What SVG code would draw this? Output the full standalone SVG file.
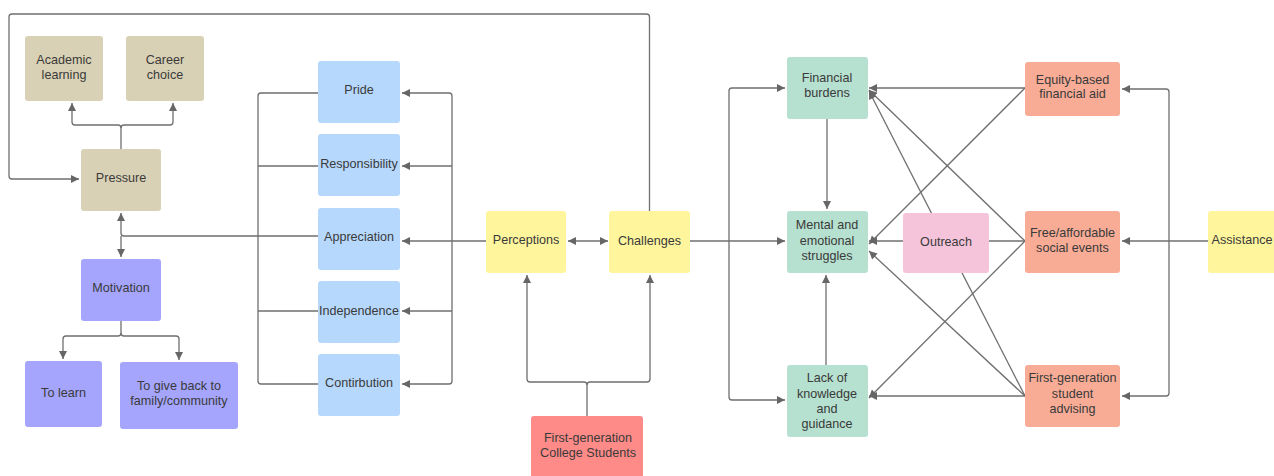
<svg xmlns="http://www.w3.org/2000/svg" width="1274" height="476" viewBox="0 0 1274 476">
<style>
.n{stroke:none}
.tan{fill:#d9d1b5}.pur{fill:#a5a5fd}.blu{fill:#b6d8fd}.yel{fill:#fff59d}.red{fill:#ff8b88}.grn{fill:#b6e0cf}.pnk{fill:#f5c4da}.sal{fill:#f8ac96}
text{font-family:"Liberation Sans",Arial,sans-serif;font-size:12.6px;fill:#3a3a3a;text-anchor:middle;dominant-baseline:central}
.c path{fill:none;stroke:#6f6f6f;stroke-width:1.3}
</style>
<defs>
<marker id="ah" viewBox="0 0 10 10" refX="10" refY="5" markerWidth="9" markerHeight="8" orient="auto-start-reverse" markerUnits="userSpaceOnUse"><path d="M0,0 L10,5 L0,10 z" fill="#666"/></marker>
</defs>
<rect width="1274" height="476" fill="#ffffff"/>
<g class="c" id="connectors">
<path d="M649.5,211 V17 Q649.5,14 646.5,14 H12 Q9,14 9,17 V176 Q9,179 12,179 H79" marker-end="url(#ah)"/>
<path d="M121,149 V128 Q121,125 118,125 H75 Q72,125 72,122 V103" marker-end="url(#ah)"/>
<path d="M121,128 Q121,125 124,125 H170 Q173,125 173,122 V103" marker-end="url(#ah)"/>
<path d="M318,93 H261 Q258,93 258,96 V381 Q258,384 261,384 H318"/>
<path d="M318,166 H258 M318,236 H258 M318,311 H258"/>
<path d="M258,236 H124 Q121,236 121,233 V213" marker-end="url(#ah)"/>
<path d="M121,236 V257" marker-end="url(#ah)"/>
<path d="M121,320 V333 Q121,336 118,336 H66 Q63,336 63,339 V359" marker-end="url(#ah)"/>
<path d="M121,333 Q121,336 124,336 H176 Q179,336 179,339 V360" marker-end="url(#ah)"/>
<path d="M486,241 H452"/>
<path d="M452,241 V96 Q452,93 449,93 H402" marker-end="url(#ah)"/>
<path d="M452,166 H402" marker-end="url(#ah)"/>
<path d="M452,241 H402" marker-end="url(#ah)"/>
<path d="M452,311 H402" marker-end="url(#ah)"/>
<path d="M452,241 V381 Q452,384 449,384 H402" marker-end="url(#ah)"/>
<path d="M568,241 H608" marker-start="url(#ah)" marker-end="url(#ah)"/>
<path d="M587,416 V385 Q587,382 584,382 H530 Q527,382 527,379 V275" marker-end="url(#ah)"/>
<path d="M587,385 Q587,382 590,382 H647 Q650,382 650,379 V275" marker-end="url(#ah)"/>
<path d="M690,241 H729"/>
<path d="M729,241 V91 Q729,88 732,88 H785" marker-end="url(#ah)"/>
<path d="M729,241 H785" marker-end="url(#ah)"/>
<path d="M729,241 V397 Q729,400 732,400 H785" marker-end="url(#ah)"/>
<path d="M827,119 V209" marker-end="url(#ah)"/>
<path d="M826,365 V275" marker-end="url(#ah)"/>
<path d="M1025,88 L869,88" marker-end="url(#ah)"/>
<path d="M1025,88 L869,244" marker-end="url(#ah)"/>
<path d="M1025,241 L869,90" marker-end="url(#ah)"/>
<path d="M1025,241 L869,241" marker-end="url(#ah)"/>
<path d="M1025,241 L869,398" marker-end="url(#ah)"/>
<path d="M1025,396 L869,91" marker-end="url(#ah)"/>
<path d="M1025,396 L869,251" marker-end="url(#ah)"/>
<path d="M1025,396 L869,396" marker-end="url(#ah)"/>
<path d="M1208,241 H1122" marker-end="url(#ah)"/>
<path d="M1169,241 V92 Q1169,89 1166,89 H1122" marker-end="url(#ah)"/>
<path d="M1169,241 V393 Q1169,396 1166,396 H1122" marker-end="url(#ah)"/>
</g>
<g id="academic"><rect class="n tan" x="25" y="36" width="78" height="65" rx="3"/><text x="64" y="60">Academic</text><text x="64" y="75">learning</text></g>
<g id="career"><rect class="n tan" x="126" y="36" width="78" height="65" rx="3"/><text x="165" y="60">Career</text><text x="165" y="75">choice</text></g>
<g id="pressure"><rect class="n tan" x="81" y="149" width="80" height="62" rx="3"/><text x="121" y="178">Pressure</text></g>
<g id="motivation"><rect class="n pur" x="81" y="259" width="80" height="62" rx="3"/><text x="121" y="288">Motivation</text></g>
<g id="tolearn"><rect class="n pur" x="25" y="361" width="77" height="66" rx="3"/><text x="63.5" y="393">To learn</text></g>
<g id="giveback"><rect class="n pur" x="120" y="362" width="118" height="67" rx="3"/><text x="179" y="386">To give back to</text><text x="179" y="401">family/community</text></g>
<g id="pride"><rect class="n blu" x="318" y="61" width="82" height="62" rx="3"/><text x="359" y="90">Pride</text></g>
<g id="responsibility"><rect class="n blu" x="318" y="134" width="82" height="62" rx="3"/><text x="359" y="164">Responsibility</text></g>
<g id="appreciation"><rect class="n blu" x="318" y="208" width="82" height="62" rx="3"/><text x="359" y="237">Appreciation</text></g>
<g id="independence"><rect class="n blu" x="318" y="281" width="82" height="62" rx="3"/><text x="359" y="311">Independence</text></g>
<g id="contirbution"><rect class="n blu" x="318" y="354" width="82" height="62" rx="3"/><text x="359" y="383">Contirbution</text></g>
<g id="perceptions"><rect class="n yel" x="486" y="211" width="80" height="62" rx="3"/><text x="526" y="240">Perceptions</text></g>
<g id="challenges"><rect class="n yel" x="609" y="211" width="81" height="62" rx="3"/><text x="649.5" y="241">Challenges</text></g>
<g id="firstgen"><rect class="n red" x="531" y="416" width="112" height="62" rx="3"/><text x="588" y="438">First-generation</text><text x="588" y="453">College Students</text></g>
<g id="financial"><rect class="n grn" x="787" y="57" width="81" height="62" rx="3"/><text x="827" y="78">Financial</text><text x="827" y="93">burdens</text></g>
<g id="mental"><rect class="n grn" x="787" y="211" width="81" height="62" rx="3"/><text x="827" y="225">Mental and</text><text x="827" y="240.5">emotional</text><text x="827" y="256">struggles</text></g>
<g id="outreach"><rect class="n pnk" x="903" y="213" width="86" height="60" rx="3"/><text x="946" y="242">Outreach</text></g>
<g id="lack"><rect class="n grn" x="787" y="365" width="81" height="72" rx="3"/><text x="827" y="378">Lack of</text><text x="827" y="393.5">knowledge</text><text x="827" y="409">and</text><text x="827" y="424">guidance</text></g>
<g id="equity"><rect class="n sal" x="1025" y="62" width="95" height="54" rx="3"/><text x="1072.5" y="80">Equity-based</text><text x="1072.5" y="94">financial aid</text></g>
<g id="social"><rect class="n sal" x="1025" y="211" width="95" height="62" rx="3"/><text x="1072.5" y="233">Free/affordable</text><text x="1072.5" y="248">social events</text></g>
<g id="advising"><rect class="n sal" x="1025" y="365" width="95" height="62" rx="3"/><text x="1072.5" y="378">First-generation</text><text x="1072.5" y="394">student</text><text x="1072.5" y="409">advising</text></g>
<g id="assistance"><rect class="n yel" x="1208" y="211" width="68" height="62" rx="3"/><text x="1242" y="240">Assistance</text></g>
</svg>
